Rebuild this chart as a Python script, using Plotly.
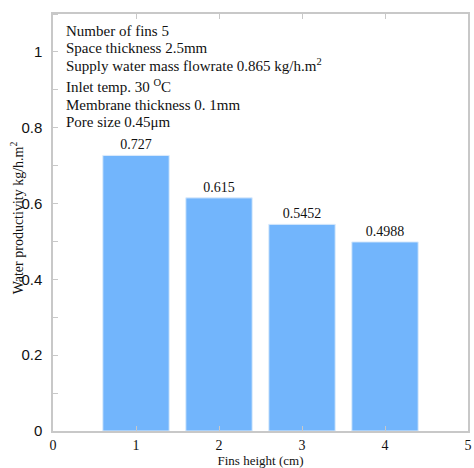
import plotly.graph_objects as go

fin_heights = [1, 2, 3, 4]
productivity = [0.727, 0.615, 0.5452, 0.4988]
bar_labels = ["0.727", "0.615", "0.5452", "0.4988"]
info_lines = [
    "Number of fins 5",
    "Space thickness 2.5mm",
    "Supply water mass flowrate 0.865 kg/h.m<sup>2</sup>",
    "Inlet temp. 30 <sup>O</sup>C",
    "Membrane thickness 0. 1mm",
    "Pore size 0.45\u03bcm",
]

serif = "Liberation Serif, Times New Roman, serif"
sans = "Liberation Sans, Arial, sans-serif"
axis_col = "#c8c8c8"

fig = go.Figure()
fig.add_trace(go.Bar(
    x=fin_heights, y=productivity, width=0.8,
    marker=dict(color="#72b5fc", line=dict(color="#dcebfb", width=1)),
    text=bar_labels, textposition="outside", cliponaxis=False,
    textfont=dict(family=serif, size=14, color="#111"),
))

top = 14
for i, line in enumerate(info_lines):
    ys = [31, 48, 65, 86, 105, 122][i]
    fig.add_annotation(
        xref="paper", yref="paper", x=(64 - 53) / 419, y=1 - (ys - top) / 417,
        xanchor="left", yanchor="middle", text=line, showarrow=False,
        font=dict(family=serif, size=15, color="#111"),
    )

# y-axis title placed to overlap tick labels as in reference
fig.add_annotation(
    xref="paper", yref="paper", x=(17 - 53) / 419, y=1 - (218 - top) / 417,
    xanchor="center", yanchor="middle", textangle=-90, showarrow=False,
    text="Water productivity kg/h.m<sup>2</sup>",
    font=dict(family=serif, size=14, color="#111"),
)

fig.update_layout(
    width=474, height=468,
    margin=dict(l=53, r=2, t=14, b=37),
    plot_bgcolor="white", paper_bgcolor="white",
    showlegend=False,
    xaxis=dict(
        range=[0, 5], tickvals=[0, 1, 2, 3, 4, 5],
        ticks="inside", ticklen=5, tickcolor=axis_col, mirror="ticks",
        showline=True, linecolor=axis_col, linewidth=1.5, showgrid=False, zeroline=False,
        tickfont=dict(family=serif, size=14, color="#111"),
        title=dict(text="Fins height (cm)", font=dict(family=serif, size=13, color="#111"), standoff=4),
    ),
    yaxis=dict(
        range=[0, 1.1], tickvals=[0, 0.2, 0.4, 0.6, 0.8, 1],
        ticktext=["0", "0.2", "0.4", "0.6", "0.8", "1"],
        ticks="", mirror=True,
        minor=dict(dtick=0.1, tick0=0, ticks="inside", ticklen=5, tickcolor=axis_col),
        showline=True, linecolor=axis_col, linewidth=1.5, showgrid=False, zeroline=False,
        tickfont=dict(family=sans, size=15, color="#111"), ticklabelstandoff=6,
    ),
)

fig.write_html("out.html")
